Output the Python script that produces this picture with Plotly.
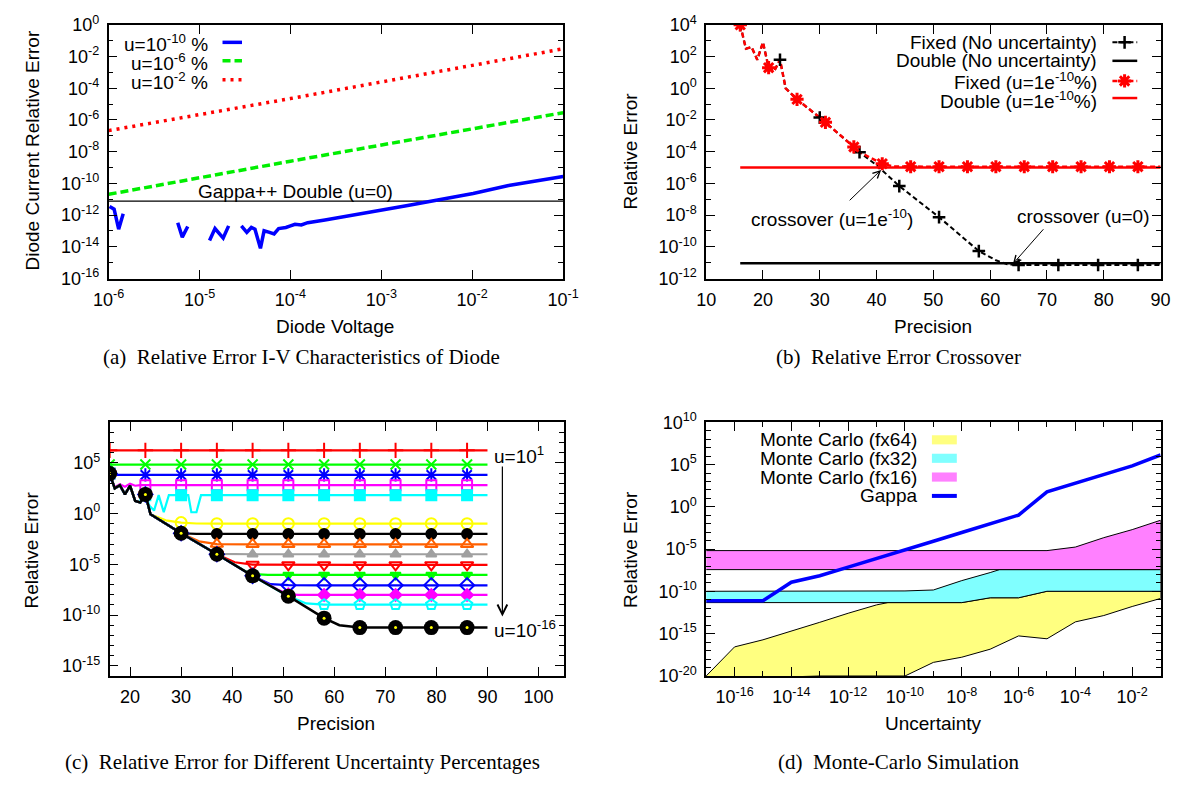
import plotly.graph_objects as go

W, H = 1198, 789
OFF = 8                     # browser body margin: figure starts at (8, 8) on screen
FW, FH = W - OFF, H - OFF
SANS = "Liberation Sans, Arial, Helvetica, sans-serif"
SERIF = "Liberation Serif, Times New Roman, serif"
TICK_FS = 18
TXT_FS = 19

# ---------------- panel (a) data : log10 values ----------------
A_X_TICKS = [-6, -5, -4, -3, -2, -1]
A_Y_TICKS = [-16, -14, -12, -10, -8, -6, -4, -2, 0]
A_Y_MINOR = [-15, -13, -11, -9, -7, -5, -3, -1]
A_RED_LOGV = [-6, -4, -1]
A_RED_LOGE = [-6.67, -4.65, -1.51]
A_GREEN_LOGV = [-6, -4, -1]
A_GREEN_LOGE = [-10.69, -8.6, -5.54]
A_BLUE_LOGV = [-5.99, -5.94, -5.89, -5.84, None,
               -5.24, -5.19, -5.13, None,
               -4.89, -4.83, -4.74, -4.68, None,
               -4.54, -4.48, -4.43, -4.39, -4.33, -4.29, -4.23, -4.18, -4.13, -4.05, -4.0,
               -3.95, -3.88, -3.81, -3.62, -3.33, -3.0, -2.71, -2.38, -1.99, -1.6, -1.0]
A_BLUE_LOGE = [-11.46, -11.63, -12.89, -11.91, None,
               -12.48, -13.39, -12.72, None,
               -13.6, -12.85, -13.45, -12.68, None,
               -12.68, -13.09, -12.78, -12.89, -14.1, -12.99, -13.09, -13.19, -12.85, -12.78, -12.68,
               -12.58, -12.62, -12.48, -12.31, -12.03, -11.7, -11.39, -11.05, -10.64, -10.13, -9.56]
A_GAPPA_LOGV = [-6, -1]
A_GAPPA_LOGE = [-11.12, -11.12]

# ---------------- panel (b) data ----------------
B_X_TICKS = [10, 20, 30, 40, 50, 60, 70, 80, 90]
B_Y_TICKS = [-12, -10, -8, -6, -4, -2, 0, 2, 4]
B_Y_MINOR = [-11, -9, -7, -5, -3, -1, 1, 3]
B_FIX0_P = [16, 17, 18, 19, 20, 21, 22, 23, 24, 26, 30, 31, 36, 37, 40, 44, 51, 58, 61, 63, 65, 72, 79, 86, 90]
B_FIX0_E = [4.0, 2.5, 2.6, 1.8, 2.9, 1.3, 1.1, 1.8, 0.0, -0.7, -1.85, -2.15, -3.7, -4.03, -4.85,
            -6.17, -8.13, -10.27, -10.85, -11.1, -11.15, -11.15, -11.15, -11.15, -11.15]
B_FIX0_MARK = [16, 23, 30, 37, 44, 51, 58, 65, 72, 79, 86]
B_FIXU_P = [16, 17, 18, 19, 20, 21, 22, 23, 24, 26, 30, 31, 36, 37, 40, 41, 43, 46, 51, 56, 61, 66, 71, 76, 81, 86, 90]
B_FIXU_E = [4.0, 2.5, 2.6, 1.8, 2.9, 1.3, 1.1, 1.8, 0.0, -0.7, -1.85, -2.15, -3.7, -4.03, -4.6, -4.76, -4.93,
            -4.95, -4.95, -4.95, -4.95, -4.95, -4.95, -4.95, -4.95, -4.95, -4.95]
B_FIXU_MARK = [16, 21, 26, 31, 36, 41, 46, 51, 56, 61, 66, 71, 76, 81, 86]
B_DBL_P = [16, 90]
B_DBL0_E = [-11.04, -11.04]
B_DBLU_E = [-5.0, -5.0]

# ---------------- panel (c) data ----------------
C_X_TICKS = [20, 30, 40, 50, 60, 70, 80, 90, 100]
C_Y_TICKS = [-15, -10, -5, 0, 5]
C_Y_MINOR = [-16, -14, -13, -12, -11, -9, -8, -7, -6, -4, -3, -2, -1, 1, 2, 3, 4, 6, 7, 8, 9]
C_MARK_P = [16, 23, 30, 37, 44, 51, 58, 65, 72, 79, 86]
C_TAIL_P = [65, 72, 79, 86, 90]
C_START_P = [16, 17, 18, 19, 20, 21, 22, 23, 24]
C_START_E = [3.95, 2.5, 2.8, 1.9, 2.75, 1.25, 1.1, 1.9, -0.06]

C_S1_P = [16, 23, 30, 37, 44, 51, 58, 65, 72, 79, 86, 90]
C_S1_E = [6.24] * 12
C_S2_P = [16, 23, 30, 37, 44, 51, 58, 65, 72, 79, 86, 90]
C_S2_E = [4.84] * 12
C_S3_P = [16, 17, 23, 30, 37, 44, 51, 58, 65, 72, 79, 86, 90]
C_S3_E = [4.0] + [3.82] * 12
C_S4_P = [16, 17, 18, 19, 20, 21, 22, 23, 30, 37, 44, 51, 58, 65, 72, 79, 86, 90]
C_S4_E = [3.95, 2.6, 2.9, 2.65, 2.95, 2.75, 2.81] + [2.81] * 11
C_S5_P = [16, 17, 18, 19, 20, 21, 22, 23, 23.8, 24.7, 25.6, 26.6, 27.6, 30, 31.4, 32, 33, 33.9,
          37, 44, 51, 58, 65, 72, 79, 86, 90]
C_S5_E = [3.95, 2.5, 2.8, 1.9, 2.75, 1.25, 1.1, 1.82, 0.78, 0.3, 1.82, 0.14, 1.82, 1.82, 1.82, 0.14, 0.14, 1.82,
          1.82, 1.82, 1.82, 1.82, 1.82, 1.82, 1.82, 1.82, 1.82]
C_S6_P = C_START_P + [27, 30, 33, 37, 44, 51, 58] + C_TAIL_P
C_S6_E = C_START_E + [-0.66, -0.88, -0.97, -0.99, -0.99, -0.99, -0.99] + [-0.99] * 5
C_S7_P = C_START_P + [30, 33, 37, 44, 51, 58] + C_TAIL_P
C_S7_E = C_START_E + [-1.93, -2.0, -2.0, -2.0, -2.0, -2.0] + [-2.0] * 5
C_S8_P = C_START_P + [30, 33.5, 37, 44, 51, 58] + C_TAIL_P
C_S8_E = C_START_E + [-1.93, -2.73, -3.0, -3.02, -3.02, -3.02] + [-3.02] * 5
C_S9_P = C_START_P + [30, 37, 40, 44, 51, 58] + C_TAIL_P
C_S9_E = C_START_E + [-1.93, -3.97, -4.0, -4.0, -4.0, -4.0] + [-4.0] * 5
C_S10_P = C_START_P + [30, 37, 40.5, 44, 51, 58] + C_TAIL_P
C_S10_E = C_START_E + [-1.93, -4.0, -4.79, -5.02, -5.05, -5.05] + [-5.05] * 5
C_S11_P = C_START_P + [30, 37, 43, 44, 47, 51, 58] + C_TAIL_P
C_S11_E = C_START_E + [-1.93, -4.0, -5.8, -5.96, -6.04, -6.04, -6.04] + [-6.04] * 5
C_S12_P = C_START_P + [30, 37, 44, 47.5, 51, 58] + C_TAIL_P
C_S12_E = C_START_E + [-1.93, -4.0, -6.13, -6.95, -7.05, -7.06] + [-7.06] * 5
C_S13_P = C_START_P + [30, 37, 44, 49, 51, 53, 58] + C_TAIL_P
C_S13_E = C_START_E + [-1.93, -4.0, -6.13, -7.5, -7.95, -8.01, -8.01] + [-8.01] * 5
C_S14_P = C_START_P + [30, 37, 44, 51, 54.5, 58] + C_TAIL_P
C_S14_E = C_START_E + [-1.93, -4.0, -6.13, -8.13, -8.85, -8.97] + [-8.97] * 5
C_BASE_P = C_START_P + [30, 37, 44, 51, 58, 61] + C_TAIL_P
C_BASE_E = C_START_E + [-1.93, -4.0, -6.13, -8.13, -10.3, -11.0] + [-11.23] * 5

# ---------------- panel (d) data ----------------
D_X_TICKS = [-16, -14, -12, -10, -8, -6, -4, -2]
D_X_MINOR = [-17, -15, -13, -11, -9, -7, -5, -3, -1]
D_Y_TICKS = [-20, -15, -10, -5, 0, 5, 10]
D_Y_MINOR = [-19, -18, -17, -16, -14, -13, -12, -11, -9, -8, -7, -6, -4, -3, -2, -1,
             1, 2, 3, 4, 6, 7, 8, 9]
D_GAPPA_U = [-17, -16, -15, -14, -13, -12, -11, -10, -9, -8, -7, -6, -5, -4, -3, -2, -1]
D_GAPPA_E = [-11.09, -11.09, -11.09, -8.91, -8.15, -7.12, -6.13, -5.09, -4.06, -3.03, -1.96, -0.97,
             1.78, 2.82, 3.81, 4.84, 6.14]
D_FX16_UP_U = [-17, -5, -4, -3, -2, -1]
D_FX16_UP_E = [-5.17, -5.17, -4.75, -3.64, -2.69, -1.58]
D_FX16_LO_U = [-17, -1]
D_FX16_LO_E = [-7.42, -7.42]
D_FX32_UP_U = [-17, -11, -10, -9, -8, -7, -6.67, -1]
D_FX32_UP_E = [-9.98, -9.98, -9.94, -9.83, -8.72, -7.77, -7.42, -7.42]
D_FX32_LO_U = [-17, -8, -7, -6, -5, -1]
D_FX32_LO_E = [-11.32, -11.32, -10.75, -10.75, -9.98, -9.98]
D_FX64_UP_U = [-17, -16, -15, -14, -13, -12, -11, -10.6, -8, -7, -6, -5, -1]
D_FX64_UP_E = [-20, -16.56, -15.72, -14.72, -13.65, -12.58, -11.59, -11.32, -11.32, -10.75, -10.75, -9.98, -9.98]
D_FX64_LO_U = [-17, -13, -10, -9, -8, -7, -6, -5, -4, -3, -2, -1]
D_FX64_LO_E = [-20.4, -20, -20, -18.39, -17.78, -16.83, -15.26, -15.6, -13.6, -12.85, -11.78, -10.83]

# ---------------- layout boxes (screen pixels: left, top, right, bottom) ----------------
BOX = {"a": (95, 13, 562, 274), "b": (709, 13, 1176, 274),
       "c": (96, 422, 563, 683), "d": (709, 422, 1176, 683)}


def pw(vals):
    return [None if v is None else 10 ** v for v in vals]


def sup(e):
    return "10<sup>%d</sup>" % e


def dom(k):
    x0, y0, x1, y1 = BOX[k]
    return [(x0 - OFF) / FW, (x1 - OFF) / FW], [1 - (y1 - OFF) / FH, 1 - (y0 - OFF) / FH]


def base_axis(domain, anchor):
    return dict(domain=domain, anchor=anchor, showline=True, linecolor="black", linewidth=1.5,
                mirror="ticks", ticks="inside", ticklen=9, tickwidth=1.2, tickcolor="black",
                showgrid=False, zeroline=False,
                tickfont=dict(family=SANS, size=TICK_FS, color="black"))


def log_axis(domain, anchor, rng, ticks, minor=None, standoff=4):
    ax = base_axis(domain, anchor)
    ax.update(type="log", range=rng, tickmode="array",
              tickvals=[10 ** t for t in ticks], ticktext=[sup(t) for t in ticks],
              ticklabelstandoff=standoff)
    if minor:
        ax["minor"] = dict(tickmode="array", tickvals=[10 ** t for t in minor], ticks="inside",
                           ticklen=5, tickwidth=1.2, tickcolor="black", showgrid=False)
    return ax


def lin_axis(domain, anchor, rng, ticks, standoff=4):
    ax = base_axis(domain, anchor)
    ax.update(type="linear", range=rng, tickmode="array", tickvals=ticks,
              ticktext=[str(t) for t in ticks], ticklabelstandoff=standoff)
    return ax


fig = go.Figure()

# ---------------- panel (a) ----------------
fig.add_trace(go.Scatter(x=pw(A_GAPPA_LOGV), y=pw(A_GAPPA_LOGE), mode="lines",
                         line=dict(color="black", width=1.2), xaxis="x", yaxis="y"))
fig.add_trace(go.Scatter(x=pw(A_BLUE_LOGV), y=pw(A_BLUE_LOGE), mode="lines", connectgaps=False,
                         line=dict(color="#0000ff", width=3.5), xaxis="x", yaxis="y"))
fig.add_trace(go.Scatter(x=pw(A_GREEN_LOGV), y=pw(A_GREEN_LOGE), mode="lines",
                         line=dict(color="#00ee00", width=3.5, dash="8px,4px"), xaxis="x", yaxis="y"))
fig.add_trace(go.Scatter(x=pw(A_RED_LOGV), y=pw(A_RED_LOGE), mode="lines",
                         line=dict(color="#ff0000", width=3.5, dash="3px,5px"), xaxis="x", yaxis="y"))

# ---------------- panel (b) ----------------
fig.add_trace(go.Scatter(x=B_FIX0_P, y=pw(B_FIX0_E), mode="lines",
                         line=dict(color="black", width=2, dash="5px,3px"), xaxis="x2", yaxis="y2"))
fig.add_trace(go.Scatter(x=B_DBL_P, y=pw(B_DBL0_E), mode="lines",
                         line=dict(color="black", width=2.5), xaxis="x2", yaxis="y2"))
fig.add_trace(go.Scatter(x=B_FIXU_P, y=pw(B_FIXU_E), mode="lines",
                         line=dict(color="#ff0000", width=2.5, dash="5px,3px"), xaxis="x2", yaxis="y2"))
fig.add_trace(go.Scatter(x=B_DBL_P, y=pw(B_DBLU_E), mode="lines",
                         line=dict(color="#ff0000", width=2.5), xaxis="x2", yaxis="y2"))
fig.add_trace(go.Scatter(x=[p for p in B_FIX0_P if p in B_FIX0_MARK],
                         y=pw([e for p, e in zip(B_FIX0_P, B_FIX0_E) if p in B_FIX0_MARK]),
                         mode="markers", xaxis="x2", yaxis="y2",
                         marker=dict(symbol="cross-thin", size=9, color="black",
                                     line=dict(color="black", width=2.5))))
fig.add_trace(go.Scatter(x=[p for p in B_FIXU_P if p in B_FIXU_MARK],
                         y=pw([e for p, e in zip(B_FIXU_P, B_FIXU_E) if p in B_FIXU_MARK]),
                         mode="markers", xaxis="x2", yaxis="y2",
                         marker=dict(symbol="asterisk", size=11, color="#ff0000",
                                     line=dict(color="#ff0000", width=3))))

# ---------------- panel (c) ----------------
C_STYLE = [
    (C_S1_P, C_S1_E, "#ff0000", "cross-thin", 11),
    (C_S2_P, C_S2_E, "#00ff00", "x-thin", 10),
    (C_S3_P, C_S3_E, "#0000ff", "asterisk", 11),
    (C_S4_P, C_S4_E, "#ff00ff", "square-open", 10),
    (C_S5_P, C_S5_E, "#00ffff", "square", 10),
    (C_S6_P, C_S6_E, "#ffff00", "circle-open", 11),
    (C_S7_P, C_S7_E, "#000000", "circle", 10),
    (C_S8_P, C_S8_E, "#ff6000", "triangle-up-open", 11),
    (C_S9_P, C_S9_E, "#a0a0a0", "triangle-up", 9),
    (C_S10_P, C_S10_E, "#ff0000", "triangle-down-open", 11),
    (C_S11_P, C_S11_E, "#00ff00", "triangle-down", 9),
    (C_S12_P, C_S12_E, "#0000ff", "diamond-open", 11),
    (C_S13_P, C_S13_E, "#ff00ff", "diamond", 9),
    (C_S14_P, C_S14_E, "#00ffff", "pentagon-open", 11),
]
for P, E, col, sym, sz in C_STYLE:
    fig.add_trace(go.Scatter(x=P, y=pw(E), mode="lines", line=dict(color=col, width=2.2),
                             xaxis="x3", yaxis="y3"))
    fig.add_trace(go.Scatter(x=[p for p in P if p in C_MARK_P],
                             y=pw([e for p, e in zip(P, E) if p in C_MARK_P]),
                             mode="markers", xaxis="x3", yaxis="y3",
                             marker=dict(symbol=sym, size=sz, color=col, line=dict(color=col, width=2))))
fig.add_trace(go.Scatter(x=C_BASE_P, y=pw(C_BASE_E), mode="lines", line=dict(color="black", width=2.5),
                         xaxis="x3", yaxis="y3"))
fig.add_trace(go.Scatter(x=[p for p in C_BASE_P if p in C_MARK_P],
                         y=pw([e for p, e in zip(C_BASE_P, C_BASE_E) if p in C_MARK_P]),
                         mode="markers", xaxis="x3", yaxis="y3",
                         marker=dict(symbol="circle", size=15, color="black", line=dict(width=0))))
fig.add_trace(go.Scatter(x=[p for p in C_BASE_P if p in C_MARK_P],
                         y=pw([e for p, e in zip(C_BASE_P, C_BASE_E) if p in C_MARK_P]),
                         mode="markers", xaxis="x3", yaxis="y3",
                         marker=dict(symbol="circle", size=3, color="#ffff00", line=dict(width=0))))

# ---------------- panel (d) ----------------
for up_u, up_e, lo_u, lo_e, fc in [
    (D_FX64_UP_U, D_FX64_UP_E, D_FX64_LO_U, D_FX64_LO_E, "#ffff80"),
    (D_FX32_UP_U, D_FX32_UP_E, D_FX32_LO_U, D_FX32_LO_E, "#80ffff"),
    (D_FX16_UP_U, D_FX16_UP_E, D_FX16_LO_U, D_FX16_LO_E, "#ff80ff"),
]:
    xs = up_u + lo_u[::-1]
    ys = up_e + lo_e[::-1]
    fig.add_trace(go.Scatter(x=pw(xs), y=pw(ys), mode="lines", fill="toself", fillcolor=fc,
                             line=dict(color="black", width=1), xaxis="x4", yaxis="y4"))
fig.add_trace(go.Scatter(x=pw(D_GAPPA_U), y=pw(D_GAPPA_E), mode="lines",
                         line=dict(color="#0000ff", width=3.5), xaxis="x4", yaxis="y4"))

# ---------------- overlay (screen-pixel) axis for legends & texts ----------------
fig.add_trace(go.Scatter(x=[1139], y=[31], mode="markers", xaxis="x5", yaxis="y5",
                         marker=dict(symbol="cross-thin", size=9, color="black",
                                     line=dict(color="black", width=2.5))))
fig.add_trace(go.Scatter(x=[1139], y=[70.7], mode="markers", xaxis="x5", yaxis="y5",
                         marker=dict(symbol="asterisk", size=11, color="#ff0000",
                                     line=dict(color="#ff0000", width=3))))

shapes = []
annos = []


def hline(x0, x1, y, color, width, dash="solid"):
    shapes.append(dict(type="line", xref="x5", yref="y5", x0=x0, x1=x1, y0=y, y1=y,
                       line=dict(color=color, width=width, dash=dash), layer="above"))


def text(x, y, s, xanchor="center", size=TXT_FS, family=SANS, angle=0):
    annos.append(dict(x=x, y=y, xref="x5", yref="y5", text=s, showarrow=False, xanchor=xanchor,
                      yanchor="middle", textangle=angle, font=dict(family=family, size=size, color="black")))


# legend (a)
hline(212, 232, 31, "#0000ff", 3.5)
hline(212, 232, 50, "#00ee00", 3.5, "8px,4px")
hline(212, 232, 69.5, "#ff0000", 3.5, "3px,5px")
text(199, 32, "u=10<sup>-10</sup> %", "right")
text(199, 51.5, "u=10<sup>-6</sup> %", "right")
text(199, 71, "u=10<sup>-2</sup> %", "right")
text(287, 184, "Gappa++ Double (u=0)")

# legend (b)
hline(1126.5, 1152, 31, "black", 2, "5px,3px")
hline(1126.5, 1152, 50, "black", 2.5)
hline(1126.5, 1152, 70.7, "#ff0000", 2.5, "5px,3px")
hline(1126.5, 1152, 88.3, "#ff0000", 2.5)
text(1113, 31, "Fixed (No uncertainty)", "right")
text(1113, 50, "Double (No uncertainty)", "right")
text(1113, 71, "Fixed (u=1e<sup>-10</sup>%)", "right")
text(1113, 90, "Double (u=1e<sup>-10</sup>%)", "right")
text(838.7, 212, "crossover (u=1e<sup>-10</sup>)")
text(1096.6, 210, "crossover (u=0)")
annos.append(dict(x=40.8, y=-5.15, xref="x2", yref="y2", ax=35.0, ay=-7.16, axref="x2", ayref="y2",
                  text="", showarrow=True, arrowhead=5, arrowsize=1.4, arrowwidth=1, arrowcolor="black"))
annos.append(dict(x=64.0, y=-11.08, xref="x2", yref="y2", ax=69.6, ay=-8.8, axref="x2", ayref="y2",
                  text="", showarrow=True, arrowhead=5, arrowsize=1.4, arrowwidth=1, arrowcolor="black"))

# panel (c) texts & arrow
text(489, 456, "u=10<sup>1</sup>", "left")
text(489, 635, "u=10<sup>-16</sup>", "left")
annos.append(dict(x=499.6, y=621.7, xref="x5", yref="y5", ax=499.6, ay=466, axref="x5", ayref="y5",
                  text="", showarrow=True, arrowhead=5, arrowsize=1.6, arrowwidth=1.2, arrowcolor="black"))

# legend (d)
for y, fc in [(440, "#ffff80"), (459, "#80ffff"), (478.3, "#ff80ff")]:
    shapes.append(dict(type="rect", xref="x5", yref="y5", x0=941, x1=966.6, y0=y - 4.7, y1=y + 4.7,
                       fillcolor=fc, line=dict(width=0), layer="above"))
hline(941, 966.6, 497.7, "#0000ff", 4)
text(928, 440, "Monte Carlo (fx64)", "right")
text(928, 459, "Monte Carlo (fx32)", "right")
text(928, 478.3, "Monte Carlo (fx16)", "right")
text(928, 497.7, "Gappa", "right")

# axis titles
text(328, 323, "Diode Voltage")
text(942, 323, "Precision")
text(329, 732, "Precision")
text(942.5, 732, "Uncertainty")
text(17, 142.5, "Diode Current Relative Error", angle=-90)
text(631, 143, "Relative Error", angle=-90)
text(16, 553, "Relative Error", angle=-90)
text(631, 553, "Relative Error", angle=-90)

# captions
text(293, 355, "(a)  Relative Error I-V Characteristics of Diode", size=21, family=SERIF)
text(907, 355, "(b)  Relative Error Crossover", size=21, family=SERIF)
text(294, 772, "(c)  Relative Error for Different Uncertainty Percentages", size=21, family=SERIF)
text(907, 772, "(d)  Monte-Carlo Simulation", size=21, family=SERIF)

xa, ya = dom("a")
xb, yb = dom("b")
xc, yc = dom("c")
xd, yd = dom("d")

fig.update_layout(
    width=FW, height=FH, autosize=False,
    margin=dict(l=0, r=0, t=0, b=0, pad=0),
    paper_bgcolor="white", plot_bgcolor="rgba(0,0,0,0)",
    showlegend=False, hovermode=False,
    font=dict(family=SANS, size=TXT_FS, color="black"),
    xaxis=log_axis(xa, "y", [-6, -1], A_X_TICKS, None, 4),
    yaxis=log_axis(ya, "x", [-16, 0], A_Y_TICKS, A_Y_MINOR, 4),
    xaxis2=lin_axis(xb, "y2", [10, 90], B_X_TICKS, 4),
    yaxis2=log_axis(yb, "x2", [-12, 4], B_Y_TICKS, B_Y_MINOR, 4),
    xaxis3=lin_axis(xc, "y3", [16, 105], C_X_TICKS, 4),
    yaxis3=log_axis(yc, "x3", [-16, 9], C_Y_TICKS, C_Y_MINOR, 4),
    xaxis4=log_axis(xd, "y4", [-17, -1], D_X_TICKS, D_X_MINOR, 4),
    yaxis4=log_axis(yd, "x4", [-20, 10], D_Y_TICKS, D_Y_MINOR, 4),
    xaxis5=dict(domain=[0, 1], anchor="y5", range=[OFF, W], visible=False, fixedrange=True),
    yaxis5=dict(domain=[0, 1], anchor="x5", range=[H, OFF], visible=False, fixedrange=True),
    shapes=shapes, annotations=annos,
)
for tr in fig.data:
    tr.showlegend = False
    tr.hoverinfo = "skip"

fig.write_html("out.html")
